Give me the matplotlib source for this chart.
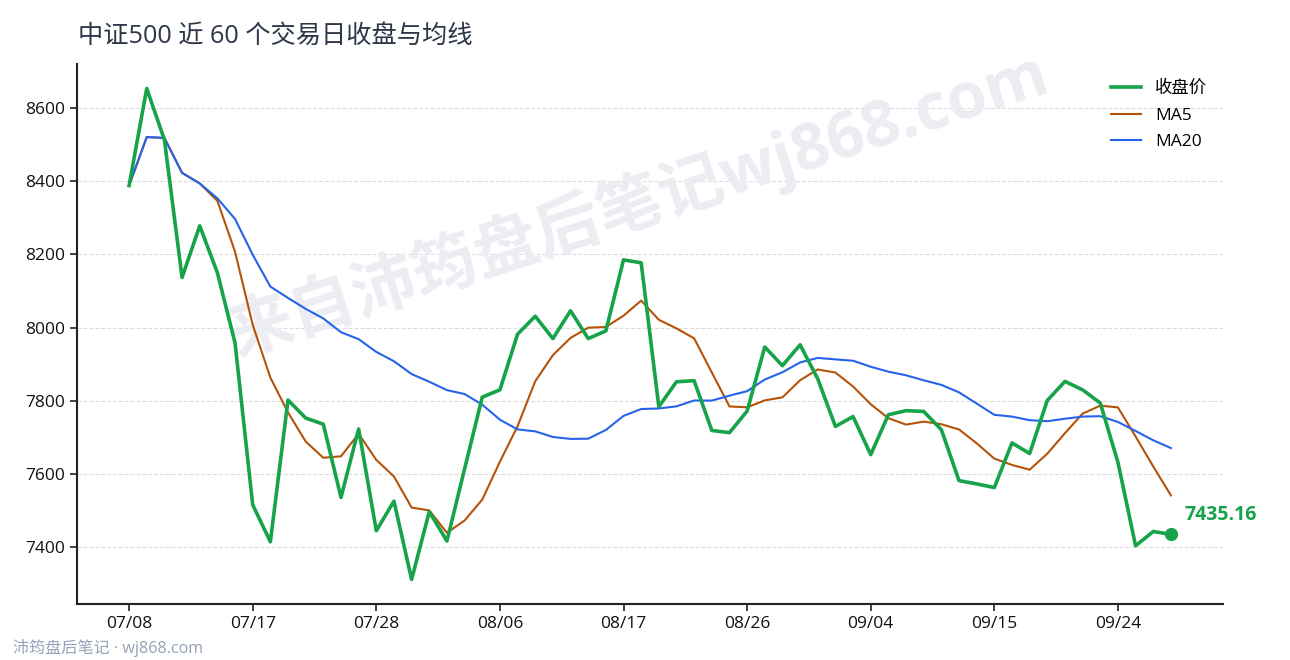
import matplotlib
matplotlib.use("Agg")
import matplotlib.pyplot as plt
import pandas as pd

plt.rcParams['font.family'] = ['Open Sans', 'Noto Sans CJK SC', 'DejaVu Sans']
plt.rcParams['axes.unicode_minus'] = False

title = "中证500 近 60 个交易日收盘与均线"
close = [8388, 8653, 8513, 8137, 8278, 8150, 7958, 7516, 7415, 7802,
         7753, 7736, 7536, 7723, 7445, 7526, 7312, 7497, 7417, 7614,
         7810, 7830, 7982, 8031, 7970, 8046, 7970, 7991, 8185, 8177,
         7784, 7852, 7855, 7719, 7713, 7772, 7947, 7896, 7953, 7860,
         7730, 7757, 7653, 7762, 7773, 7771, 7721, 7582, 7573, 7563,
         7685, 7656, 7801, 7853, 7830, 7794, 7632, 7404, 7443, 7435.16]
tick_pos = [0, 7, 14, 21, 28, 35, 42, 49, 56]
tick_labels = ["07/08", "07/17", "07/28", "08/06", "08/17", "08/26", "09/04", "09/15", "09/24"]
series_names = ["收盘价", "MA5", "MA20"]

s = pd.Series(close)
ma5 = s.rolling(5, min_periods=1).mean()
ma20 = s.rolling(20, min_periods=1).mean()
x = list(range(len(close)))

fig = plt.figure(figsize=(12.9, 6.6), dpi=100)
ax = fig.add_axes([77/1290, 1-604/660, (1223-77)/1290, (604-64)/660])

green = '#16a34a'
orange = '#b45309'
blue = '#2563eb'

ax.plot(x, close, color=green, lw=2.6, label=series_names[0], zorder=4)
ax.plot(x, ma5, color=orange, lw=1.5, label=series_names[1], zorder=3)
ax.plot(x, ma20, color=blue, lw=1.5, label=series_names[2], zorder=3)

ax.plot([x[-1]], [close[-1]], 'o', color=green, ms=8.5, zorder=5)
ax.annotate(f"{close[-1]:.2f}", xy=(x[-1], close[-1]), xytext=(14, 19),
            textcoords='offset pixels', ha='left', va='center',
            fontsize=14, fontweight='bold', color=green, zorder=6)

ax.text(0.49, 0.74, "来自沛筠盘后笔记wj868.com", transform=ax.transAxes,
        rotation=18, ha='center', va='center', fontsize=46.5, fontweight='bold',
        color='#ecedf2', zorder=1)

ax.set_xticks(tick_pos)
ax.set_xticklabels(tick_labels)
ax.set_yticks([7400, 7600, 7800, 8000, 8200, 8400, 8600])
ax.tick_params(axis='both', labelsize=12.5, length=5, width=1.2, color='#222222', labelcolor='#111111')
ax.grid(axis='y', ls='--', color='#dddddd', lw=0.8, zorder=0)
ax.set_axisbelow(True)
for side in ['top', 'right']:
    ax.spines[side].set_visible(False)
for side in ['left', 'bottom']:
    ax.spines[side].set_linewidth(1.5)
    ax.spines[side].set_color('#222222')

ax.legend(loc='upper right', frameon=False, prop={'size': 12.5}, handlelength=1.75,
          labelspacing=0.6, handletextpad=0.8, bbox_to_anchor=(1.0, 0.998))

fig.text(78/1290, 1-36/660, title, ha='left', va='center', fontsize=18.2, color='#2d3748')
fig.text(13/1290, 1-648/660, "沛筠盘后笔记 · wj868.com", ha='left', va='center',
         fontsize=11.6, color='#94a3b8')

fig.savefig("out.png", dpi=100)
